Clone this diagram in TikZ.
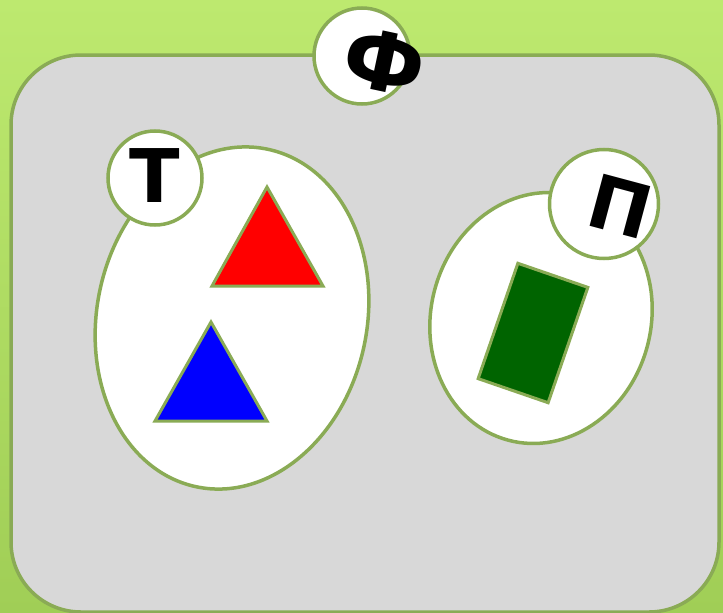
\documentclass[tikz,border=0pt]{standalone}
\usepackage{fontspec}
\usetikzlibrary{shapes.geometric}
\newfontfamily\cyrfont{DejaVu Sans}
\definecolor{leaf}{HTML}{8AAB55}
\definecolor{grass}{HTML}{BDE96F}
\definecolor{grassdark}{HTML}{A0CE56}
\definecolor{panel}{HTML}{D8D8D8}
\definecolor{darkleaf}{HTML}{006400}
\begin{document}
\begin{tikzpicture}[x=1pt,y=-1pt,
    outline/.style={draw=leaf, line width=3.5pt},
    badge/.style={circle, outline, fill=white, inner sep=0pt},
    blob/.style={ellipse, outline, fill=white, inner sep=0pt},
    letter/.style={font=\cyrfont\bfseries\fontsize{74}{74}\selectfont, inner sep=0pt}]
    % Background
    \shade[top color=grass, bottom color=grassdark] (0,0) rectangle (723,613);
    \useasboundingbox (0,0) rectangle (723,613);

    % Panel
    \draw[outline, fill=panel, rounded corners=70pt] (11,55) rectangle (719,612);

    % Sets
    \node[blob, minimum width=270pt, minimum height=345pt, rotate=-12] (setT) at (232,318) {};
    \node[blob, minimum width=220pt, minimum height=253pt, rotate=-15] (setP) at (541,318) {};

    % Elements
    \draw[outline, line width=3pt, fill=red] (267,187) -- (323,286) -- (212,286) -- cycle;
    \draw[outline, line width=3pt, fill=blue] (211,322) -- (267,421) -- (155,421) -- cycle;
    \node[outline, line width=3pt, fill=darkleaf, minimum width=74pt, minimum height=122pt,
          rotate=-19, inner sep=0pt] (card) at (533,333) {};

    % Badges
    \node[badge, minimum size=96pt] (phi) at (362,56) {};
    \node[badge, minimum size=94pt] (te) at (155,178) {};
    \node[badge, minimum size=109pt] (pe) at (604,204) {};

    \node[letter, font=\cyrfont\bfseries\fontsize{82}{82}\selectfont, rotate=-12] (phiL) at (384,62) {Ф};
    \node[letter] (teL) at (155,176) {Т};
    \node[letter, rotate=-15] (peL) at (620,206) {П};
\end{tikzpicture}
\end{document}
